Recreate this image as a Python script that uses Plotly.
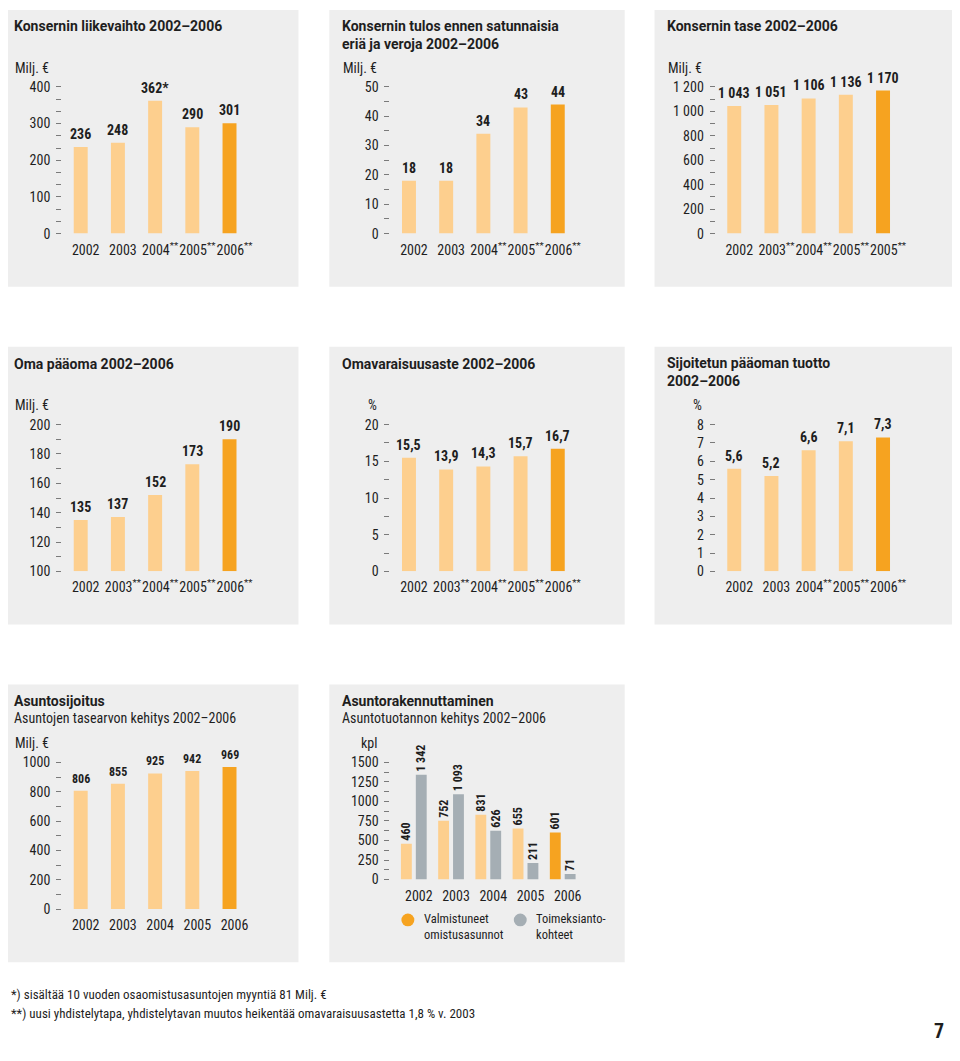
import plotly.graph_objects as go

# The page body keeps the browser's default 8 px margin, so the figure is
# 16 px smaller than the window and all reference pixel positions are shifted by 8.
WIN_W, WIN_H = 960, 1061
OFF = 8
W, H = WIN_W - 2 * OFF, WIN_H - 2 * OFF

LIGHT = "#FDCF8E"
DARK = "#F6A320"
GRAY = "#A5AEB4"
PANEL = "#EEEEEE"
TXT = "#1E1E1E"
TICKC = "#7A7A7A"
FONT = "Liberation Sans Narrow, Roboto Condensed, Roboto, sans-serif"
TFONT = "Roboto, sans-serif"

# ---------------- data ----------------
years = ["2002", "2003", "2004", "2005", "2006"]

liikevaihto = [236, 248, 362, 290, 301]
liikevaihto_labels = ["236", "248", "362*", "290", "301"]
liikevaihto_ticks = ["2002", "2003", "2004**", "2005**", "2006**"]

tulos = [18, 18, 34, 43, 44]
tulos_ticks = ["2002", "2003", "2004**", "2005**", "2006**"]

tase = [1043, 1051, 1106, 1136, 1170]
tase_ticks = ["2002", "2003**", "2004**", "2005**", "2005**"]

oma_paaoma = [135, 137, 152, 173, 190]
oma_ticks = ["2002", "2003**", "2004**", "2005**", "2006**"]

omavaraisuus = [15.5, 13.9, 14.3, 15.7, 16.7]
omavaraisuus_ticks = ["2002", "2003**", "2004**", "2005**", "2006**"]

sijoitettu = [5.6, 5.2, 6.6, 7.1, 7.3]
sijoitettu_ticks = ["2002", "2003", "2004**", "2005**", "2006**"]

asuntosijoitus = [806, 855, 925, 942, 969]
asuntosijoitus_ticks = ["2002", "2003", "2004", "2005", "2006"]

valmistuneet = [460, 752, 831, 655, 601]
toimeksianto = [1342, 1093, 626, 211, 71]


def fmt_int(v):
    return f"{v:,}".replace(",", " ")


def fmt_dec(v):
    return f"{v:.1f}".replace(".", ",")


def sup(t):
    return t.replace("**", "<sup>**</sup>")


def px(p):
    return (p - OFF) / W


def py(p):
    return 1 - (p - OFF) / H


COLS = [0, 330, 657]
ROWS = [0, 343, 686]
GX = [(2, 300), (331, 628), (658, 957)]
GY = [(2, 283), (344, 626), (687, 969)]

panels = [
    dict(c=0, r=0, title="Konsernin liikevaihto 2002–2006", unit="Milj. €",
         vals=liikevaihto, labels=liikevaihto_labels, ticks=liikevaihto_ticks,
         yr=(0, 400), dt=100, mdt=100 / 3, sep=False),
    dict(c=1, r=0, title="Konsernin tulos ennen satunnaisia<br>eriä ja veroja 2002–2006", unit="Milj. €",
         vals=tulos, labels=[fmt_int(v) for v in tulos], ticks=tulos_ticks,
         yr=(0, 50), dt=10, mdt=5, sep=False),
    dict(c=2, r=0, title="Konsernin tase 2002–2006", unit="Milj. €",
         vals=tase, labels=[fmt_int(v) for v in tase], ticks=tase_ticks,
         yr=(0, 1200), dt=200, mdt=100, sep=True),
    dict(c=0, r=1, title="Oma pääoma 2002–2006", unit="Milj. €",
         vals=oma_paaoma, labels=[fmt_int(v) for v in oma_paaoma], ticks=oma_ticks,
         yr=(100, 200), dt=20, mdt=10, sep=False),
    dict(c=1, r=1, title="Omavaraisuusaste 2002–2006", unit="%",
         vals=omavaraisuus, labels=[fmt_dec(v) for v in omavaraisuus], ticks=omavaraisuus_ticks,
         yr=(0, 20), dt=5, mdt=2.5, sep=False),
    dict(c=2, r=1, title="Sijoitetun pääoman tuotto<br>2002–2006", unit="%",
         vals=sijoitettu, labels=[fmt_dec(v) for v in sijoitettu], ticks=sijoitettu_ticks,
         yr=(0, 8), dt=1, mdt=None, sep=False),
    dict(c=0, r=2, title="Asuntosijoitus", sub="Asuntojen tasearvon kehitys 2002–2006", unit="Milj. €",
         vals=asuntosijoitus, labels=[fmt_int(v) for v in asuntosijoitus], ticks=asuntosijoitus_ticks,
         yr=(0, 1000), dt=200, mdt=100, sep=False, lsize=12),
]

fig = go.Figure()
shapes = []
annotations = []
layout_axes = {}


def add_text(x, y, text, size=14, bold=False, xanchor="left", yanchor="middle", color=TXT,
             align="left", family=FONT):
    annotations.append(dict(
        x=px(x), y=py(y), xref="paper", yref="paper", text=text, showarrow=False,
        xanchor=xanchor, yanchor=yanchor, align=align,
        font=dict(family=family, size=size, color=color, weight="bold" if bold else "normal"),
    ))


def add_title(x, y, text):
    n = text.count("<br>")
    add_text(x, y + 9 * n, text, size=14, bold=True, family=TFONT)


panel_boxes = [(0, 0), (1, 0), (2, 0), (0, 1), (1, 1), (2, 1), (0, 2), (1, 2)]
for c, r in panel_boxes:
    shapes.append(dict(type="rect", xref="paper", yref="paper", layer="below",
                       x0=px(GX[c][0]), x1=px(GX[c][1]), y0=py(GY[r][1]), y1=py(GY[r][0]),
                       fillcolor=PANEL, line=dict(width=0)))


def axis_pair(k, bx, by, xdom, ydom, xrange_, ticks, yr, dt, mdt, sep):
    xa = dict(domain=[px(bx + xdom[0]), px(bx + xdom[1])], range=list(xrange_), anchor=f"y{k}",
              tickmode="array", tickvals=list(range(len(ticks))), ticktext=[sup(t) for t in ticks],
              showgrid=False, zeroline=False, showline=False, ticks="", autotickangles=[0],
              tickfont=dict(family=FONT, size=14, color=TXT), ticklabelstandoff=6,
              ticklabelshift=5, fixedrange=True)
    ya = dict(domain=[py(by + ydom[1]), py(by + ydom[0])], range=list(yr), anchor=f"x{k}",
              tick0=yr[0], dtick=dt, showgrid=False, zeroline=False, showline=False,
              ticks="outside", ticklen=5, tickwidth=1, tickcolor=TICKC,
              tickfont=dict(family=FONT, size=14, color=TXT), ticklabelstandoff=3,
              separatethousands=sep, fixedrange=True)
    if mdt:
        ya["minor"] = dict(ticks="outside", ticklen=5, tickwidth=1, tickcolor=TICKC, dtick=mdt,
                           tick0=yr[0], showgrid=False)
    layout_axes[f"xaxis{k}"] = xa
    layout_axes[f"yaxis{k}"] = ya


for k, p in enumerate(panels, start=1):
    bx, by = COLS[p["c"]], ROWS[p["r"]]
    axis_pair(k, bx, by, (62.4, 249.4), (80, 229), (-0.5, 4.5), p["ticks"], p["yr"], p["dt"], p["mdt"], p["sep"])
    colors = [LIGHT] * (len(p["vals"]) - 1) + [DARK]
    base = p["yr"][0]
    fig.add_trace(go.Bar(x=list(range(len(p["vals"]))), y=[v - base for v in p["vals"]],
                         base=base if base else None,
                         marker=dict(color=colors, line=dict(width=0)), width=0.375,
                         xaxis=f"x{k}", yaxis=f"y{k}", showlegend=False, hoverinfo="skip"))
    for i, (v, lab) in enumerate(zip(p["vals"], p["labels"])):
        annotations.append(dict(x=i, y=v, xref=f"x{k}", yref=f"y{k}", text=lab, showarrow=False,
                                yanchor="bottom", yshift=3,
                                font=dict(family=FONT, size=p.get("lsize", 14), color=TXT, weight="bold")))
    add_title(bx + 12, by + 18, p["title"])
    if p.get("sub"):
        add_text(bx + 12, by + 35, p["sub"], size=14)
    add_text(bx + 51, by + 60.5, p["unit"], size=14, xanchor="right")

# ---- panel 8: grouped bars ----
k = 8
bx, by = COLS[1], ROWS[2]
axis_pair(k, bx, by, (62.4, 254), (80, 199), (-0.63, 4.49), years, (0, 1500), 250, 125, False)
fig.add_trace(go.Bar(x=list(range(5)), y=valmistuneet, name="Valmistuneet omistusasunnot",
                     marker=dict(color=[LIGHT] * 4 + [DARK], line=dict(width=0)),
                     text=[fmt_int(v) for v in valmistuneet], textposition="outside", textangle=-90,
                     constraintext="none", cliponaxis=False,
                     textfont=dict(family=FONT, size=12, color=TXT, weight="bold"),
                     xaxis="x8", yaxis="y8", showlegend=False, hoverinfo="skip"))
fig.add_trace(go.Bar(x=list(range(5)), y=toimeksianto, name="Toimeksiantokohteet",
                     marker=dict(color=GRAY, line=dict(width=0)),
                     text=[fmt_int(v) for v in toimeksianto], textposition="outside", textangle=-90,
                     constraintext="none", cliponaxis=False,
                     textfont=dict(family=FONT, size=12, color=TXT, weight="bold"),
                     xaxis="x8", yaxis="y8", showlegend=False, hoverinfo="skip"))
add_title(bx + 12, by + 18, "Asuntorakennuttaminen")
add_text(bx + 12, by + 35, "Asuntotuotannon kehitys 2002–2006", size=14)
add_text(bx + 51, by + 60.5, "kpl", size=14, xanchor="right")

# legend (manual)
for cxp, col in [(410, DARK), (523, GRAY)]:
    shapes.append(dict(type="circle", xref="paper", yref="paper",
                       x0=px(cxp - 6.5), x1=px(cxp + 6.5), y0=py(926 + 6.5), y1=py(926 - 6.5),
                       fillcolor=col, line=dict(width=0)))
add_text(424, 933, "Valmistuneet<br>omistusasunnot", size=12.5)
add_text(537, 933, "Toimeksianto-<br>kohteet", size=12.5)

# footnotes
add_text(OFF + 1, 1002, "*) sisältää 10 vuoden osaomistusasuntojen myyntiä 81 Milj. €", size=13)
add_text(OFF + 1, 1021, "**) uusi yhdistelytapa, yhdistelytavan muutos heikentää omavaraisuusastetta 1,8 % v. 2003", size=13)
add_text(WIN_W - OFF - 1, WIN_H - OFF, "7", size=20, bold=True, xanchor="right", yanchor="bottom")

fig.update_layout(
    width=W, height=H, autosize=False,
    margin=dict(l=0, r=0, t=0, b=0, pad=0),
    paper_bgcolor="white", plot_bgcolor="rgba(0,0,0,0)",
    barmode="group", bargap=0.2, bargroupgap=0.27,
    separators=", ",
    font=dict(family=FONT, color=TXT),
    shapes=shapes, annotations=annotations,
    showlegend=False,
    **layout_axes,
)

fig.write_html("out.html", config={"displayModeBar": False})
